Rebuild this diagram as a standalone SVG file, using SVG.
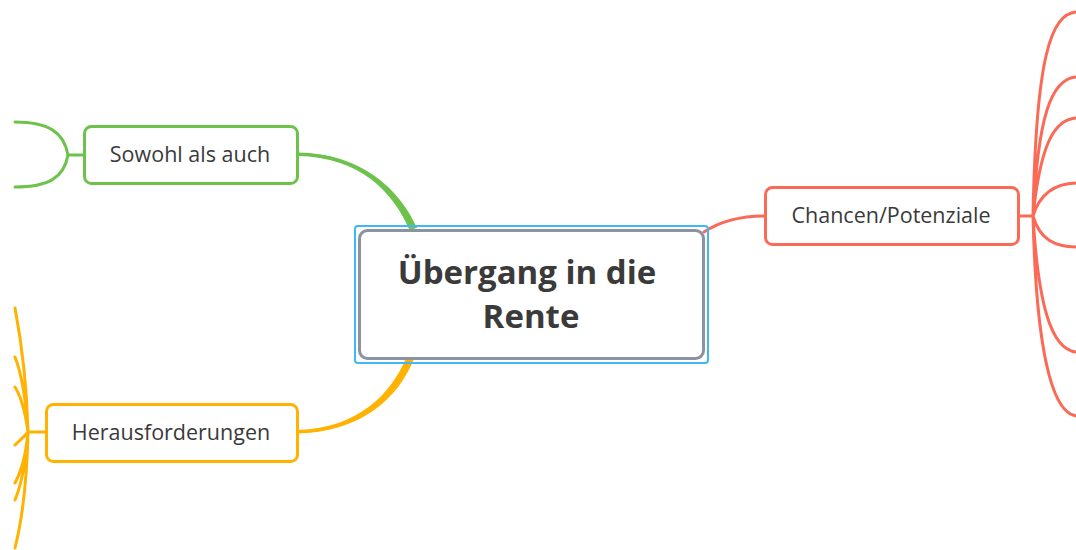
<svg xmlns="http://www.w3.org/2000/svg" width="1076" height="550" viewBox="0 0 1076 550">
<style>
.t{font-family:"Open Sans","Noto Sans","Liberation Sans",sans-serif;fill:#3a3a3a;text-anchor:middle}
.n{font-size:21.5px}
.c{font-size:33px;font-weight:bold}
.g{stroke:#6cc24a}
.y{stroke:#ffb300}
.r{stroke:#fa6a57}
.ln{fill:none;stroke-width:3;stroke-linecap:round}
.box{fill:#fff;stroke-width:3}
</style>
<rect width="1076" height="550" fill="#fff"/>
<g id="connectors">
  <path d="M298,154 C360,155 396,190 413,228" class="ln g"/>
  <path d="M298,153 C362,153 400,190 417,228 L409,229 C393,192 360,157 298,156 Z" fill="#6cc24a"/>
  <path d="M298,432 C360,430 396,395 410,359" class="ln y"/>
  <path d="M298,433 C362,432 398,398 414,359 L406,358 C392,392 360,428 298,430 Z" fill="#ffb300"/>
  <path d="M704,232 C722,220 742,216 765,216" class="ln r"/>
  <path d="M84,155 L68,155 M68,155 C64,132 48,122 15,122 M68,155 C64,178 48,187 15,187" class="ln g"/>
  <path d="M46,432 L28,432 M28,432 C27,390 22,345 15,308 M28,432 C26,400 22,375 15,357 M28,432 C25,410 20,395 15,387 M28,432 C24,437 19,441 15,445 M28,432 C26,455 22,470 15,483 M28,432 C26,465 21,485 15,500 M28,432 C27,480 22,520 15,548" class="ln y"/>
  <path d="M1019,216 L1033,216 M1033,216 C1036,60 1050,12 1078,12 M1033,216 C1038,120 1050,77 1078,77 M1033,216 C1040,150 1052,118 1078,118 M1033,216 C1040,193 1055,183 1078,183 M1033,216 C1040,240 1055,247 1078,247 M1033,216 C1038,300 1050,352 1078,352 M1033,216 C1036,340 1050,416 1078,416" class="ln r"/>
</g>
<g id="center">
  <rect x="355" y="226" width="353" height="137" rx="3" fill="none" stroke="#40b8f6" stroke-width="2"/>
  <rect x="359.5" y="230.5" width="344" height="128" rx="8" class="box" stroke="#8b93a3"/>
  <text x="527" y="284" class="t c">Übergang in die</text>
  <text x="531" y="328" class="t c">Rente</text>
</g>
<g id="sowohl">
  <rect x="84.5" y="126.5" width="213" height="57" rx="7" class="box g"/>
  <text x="190" y="162" class="t n">Sowohl als auch</text>
</g>
<g id="herausforderungen">
  <rect x="46.5" y="404.5" width="251" height="57" rx="7" class="box y"/>
  <text x="171" y="440" class="t n">Herausforderungen</text>
</g>
<g id="chancen">
  <rect x="765.5" y="187.5" width="253" height="57" rx="7" class="box r"/>
  <text x="891" y="223" class="t n">Chancen/Potenziale</text>
</g>
</svg>
